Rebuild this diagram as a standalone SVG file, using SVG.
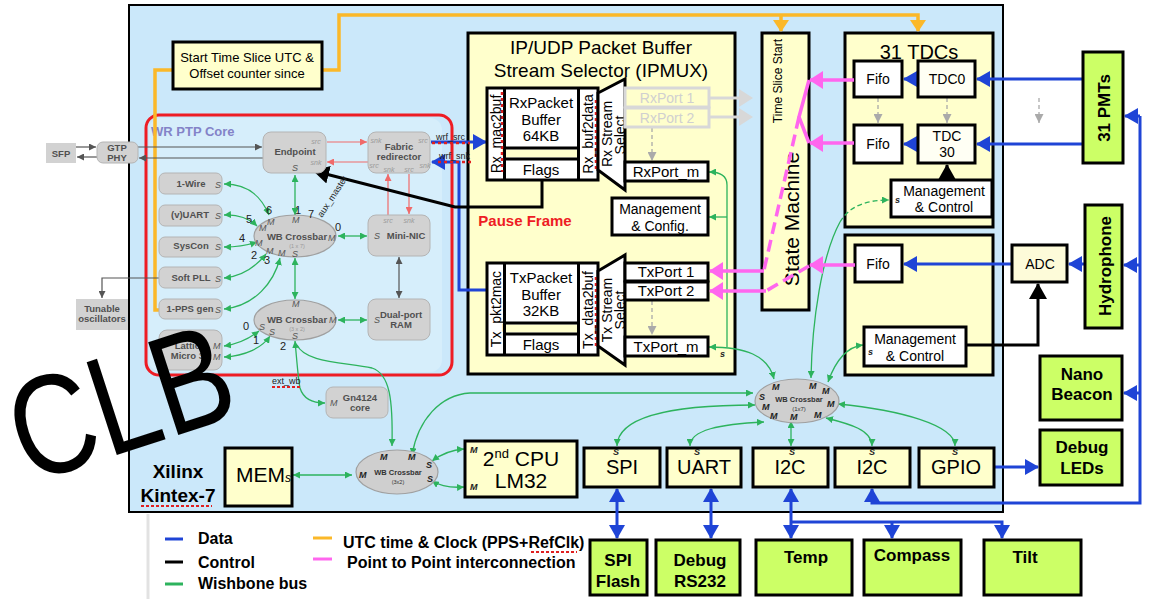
<svg xmlns="http://www.w3.org/2000/svg" width="1152" height="599" viewBox="0 0 1152 599">
<defs>
<style>
text{font-family:"Liberation Sans",Arial,sans-serif;}
.y{fill:#ffffcc;stroke:#000;stroke-width:3}
.w{fill:#fff;stroke:#000;stroke-width:3}
.g{fill:#ccff66;stroke:#000;stroke-width:3}
.gr{fill:#d2d2d2;stroke:#b4b4b4;stroke-width:1}
.gt{font-size:9.5px;font-weight:bold;fill:#505050;text-anchor:middle}
.si{font-style:italic;font-size:9px;fill:#555}
.pt{font-style:italic;font-size:7px;fill:#9a9a9a;text-anchor:middle}
.num{font-size:11px;fill:#222}
.bl{stroke:#1f44d6;stroke-width:3;fill:none}
.gn{stroke:#2db35d;stroke-width:1.3;fill:none}
.rd{stroke:#f06a6a;stroke-width:1.2;fill:none}
.dg{stroke:#555;stroke-width:1.2;fill:none}
.pk{stroke:#ff66ee;stroke-width:3.5;fill:none}
.or{stroke:#fbb829;stroke-width:3.5;fill:none}
.gd{stroke:#aaa;stroke-width:1.3;fill:none;stroke-dasharray:4,3}
.c{text-anchor:middle}
.t14{font-size:14px}
.t15{font-size:15px}
.t20{font-size:20px}
.gb{font-weight:bold;font-size:17px;text-anchor:middle}
.m{font-style:italic;font-weight:bold;font-size:9px;fill:#222}
.xb{fill:#cfcfcf;stroke:#a0a0a0;stroke-width:1.2}
.lg{font-size:16px;font-weight:bold}
</style>
<marker id="aB" markerUnits="userSpaceOnUse" markerWidth="14" markerHeight="16" refX="13" refY="8" orient="auto-start-reverse"><path d="M0,0 L14,8 L0,16 z" fill="#1f44d6"/></marker>
<marker id="aG" markerUnits="userSpaceOnUse" markerWidth="7" markerHeight="7" refX="7" refY="3.5" orient="auto-start-reverse"><path d="M0,0 L7,3.5 L0,7 z" fill="#2db35d"/></marker>
<marker id="aR" markerUnits="userSpaceOnUse" markerWidth="7" markerHeight="7" refX="7" refY="3.5" orient="auto-start-reverse"><path d="M0,0 L7,3.5 L0,7 z" fill="#f06a6a"/></marker>
<marker id="aD" markerUnits="userSpaceOnUse" markerWidth="7" markerHeight="7" refX="7" refY="3.5" orient="auto-start-reverse"><path d="M0,0 L7,3.5 L0,7 z" fill="#555"/></marker>
<marker id="aY" markerUnits="userSpaceOnUse" markerWidth="9" markerHeight="9" refX="9" refY="4.5" orient="auto-start-reverse"><path d="M0,0 L9,4.5 L0,9 z" fill="#aaa"/></marker>
<marker id="aP" markerUnits="userSpaceOnUse" markerWidth="14" markerHeight="18" refX="13" refY="9" orient="auto"><path d="M0,0 L14,9 L0,18 z" fill="#ff66ee"/></marker>
<marker id="aK" markerUnits="userSpaceOnUse" markerWidth="16" markerHeight="18" refX="15" refY="9" orient="auto"><path d="M0,0 L16,9 L0,18 z" fill="#000"/></marker>
<marker id="aO" markerUnits="userSpaceOnUse" markerWidth="12" markerHeight="16" refX="11" refY="8" orient="auto"><path d="M0,0 L12,8 L0,16 z" fill="#fbb829"/></marker>
</defs>

<rect x="0" y="0" width="1152" height="599" fill="#fff"/>
<line x1="148" y1="514" x2="148" y2="599" stroke="#e2e2e2" stroke-width="3"/>
<g id="fpga">
<rect x="129" y="5" width="874" height="507" fill="#cbe8fa" stroke="#000" stroke-width="2"/>
<text x="178" y="478" font-size="19" font-weight="bold" class="c">Xilinx</text>
<text x="178" y="502" font-size="19" font-weight="bold" class="c">Kintex-7</text>
<line x1="141" y1="506" x2="212" y2="506" stroke="#e02020" stroke-width="2" stroke-dasharray="3,2"/>
</g>

<g id="wrptp">
<rect x="149" y="118" width="293" height="254" rx="12" fill="#d6eefb"/>
<rect x="146" y="115" width="306" height="260" rx="13" fill="none" stroke="#ee1c24" stroke-width="3"/>
<text x="151" y="136" font-size="13" font-weight="bold" fill="#8383c8">WR PTP Core</text>
</g>

<g id="ipmux">
<rect x="468" y="33" width="267" height="341" class="y"/>
<text x="601" y="54" font-size="19" class="c">IP/UDP Packet Buffer</text>
<text x="601" y="77" font-size="19" class="c">Stream Selector (IPMUX)</text>
<text x="525" y="226" font-size="15" font-weight="bold" fill="#ee1c24" class="c">Pause Frame</text>
</g>
<g id="statemachine"><rect x="762" y="33" width="47" height="277" class="y"/><text transform="translate(782,81) rotate(-90)" font-size="12" class="c">Time Slice Start</text><text transform="translate(799,219) rotate(-90)" font-size="21" class="c">State Machine</text></g>
<g id="tdcs">
<rect x="845" y="33" width="148" height="194" class="y"/>
<text x="919" y="59" class="c t20">31 TDCs</text>
</g>
<g id="hydroproc"><rect x="845" y="235" width="148" height="140" class="y"/></g>

<g id="connectors">
<path class="or" d="M322,70 L339,70 L339,15 L918,15 L918,31" marker-end="url(#aO)"/>
<path class="or" d="M781,15 L781,31" marker-end="url(#aO)"/>
<path class="or" d="M173,70 L155,70 L155,310 L163,310"/>
<path class="dg" d="M76,147 L96,147" marker-end="url(#aD)"/>
<path class="dg" d="M97,157 L77,157" marker-end="url(#aD)"/>
<path class="dg" d="M138,147 L262,147" marker-end="url(#aD)"/>
<path class="dg" d="M263,158 L139,158" marker-end="url(#aD)"/>
<path class="dg" d="M159,278 L102,278 L102,298" marker-end="url(#aD)"/>
<path class="dg" d="M399,257 L399,298" marker-start="url(#aD)" marker-end="url(#aD)"/>
<path class="rd" d="M327,142 L367,142" marker-end="url(#aR)"/>
<path class="rd" d="M368,162 L327,162" marker-end="url(#aR)"/>
<path class="rd" d="M388,215 L388,174" marker-end="url(#aR)"/>
<path class="rd" d="M409,174 L409,214" marker-end="url(#aR)"/>
<path class="gn" d="M295,175 L295,215" marker-start="url(#aG)" marker-end="url(#aG)"/>
<path class="gn" d="M224,184 C250,184 262,198 269,215" marker-start="url(#aG)" marker-end="url(#aG)"/>
<path class="gn" d="M224,215 C238,214 250,219 257,226" marker-start="url(#aG)" marker-end="url(#aG)"/>
<path class="gn" d="M224,247 C238,247 248,245 257,242" marker-start="url(#aG)" marker-end="url(#aG)"/>
<path class="gn" d="M224,278 C245,276 258,264 266,254" marker-start="url(#aG)" marker-end="url(#aG)"/>
<path class="gn" d="M224,309 C255,306 274,282 280,258" marker-start="url(#aG)" marker-end="url(#aG)"/>
<path class="gn" d="M338,236 L367,236" marker-start="url(#aG)" marker-end="url(#aG)"/>
<path class="gn" d="M295,258 L295,299" marker-start="url(#aG)" marker-end="url(#aG)"/>
<path class="gn" d="M224,346 C238,344 250,338 259,331" marker-start="url(#aG)" marker-end="url(#aG)"/>
<path class="gn" d="M224,357 C245,356 262,348 270,336" marker-start="url(#aG)" marker-end="url(#aG)"/>
<path class="gn" d="M338,320 L367,320" marker-start="url(#aG)" marker-end="url(#aG)"/>
<path class="gn" d="M295,341 C297,362 298,378 300,388 C303,398 312,403 325,403" marker-start="url(#aG)" marker-end="url(#aG)"/>
<path class="gn" d="M297,345 C305,362 340,362 372,368 C390,374 393,400 392,446" marker-end="url(#aG)"/>
<path class="gn" d="M293,475 L352,475" marker-start="url(#aG)" marker-end="url(#aG)"/>
<path class="gn" d="M412,455 C418,420 440,395 470,393 L753,393" marker-start="url(#aG)" marker-end="url(#aG)"/>
<path class="gn" d="M432,461 C440,455 450,450 464,449" marker-start="url(#aG)" marker-end="url(#aG)"/>
<path class="gn" d="M432,481 C440,486 450,488 464,487" marker-start="url(#aG)" marker-end="url(#aG)"/>
<path class="gn" d="M709,347 C745,347 768,355 774,379" marker-start="url(#aG)" marker-end="url(#aG)"/>
<path class="gn" d="M727,347 L727,185 C727,176 720,172 709,172" marker-end="url(#aG)"/>
<path class="gn" d="M727,217 L709,217" marker-end="url(#aG)"/>
<path class="gn" d="M811,378 C812,320 822,255 840,222" marker-start="url(#aG)"/>
<path class="gn" d="M840,222 C850,205 868,200 889,200" stroke-dasharray="5,3" marker-end="url(#aG)"/>
<path class="gn" d="M828,382 C834,365 845,347 863,345" marker-start="url(#aG)" marker-end="url(#aG)"/>
<path class="gn" d="M755,405 C700,405 618,410 617,446" marker-start="url(#aG)" marker-end="url(#aG)"/>
<path class="gn" d="M764,422 C720,424 690,430 690,446" marker-start="url(#aG)" marker-end="url(#aG)"/>
<path class="gn" d="M791,421 L791,446" marker-start="url(#aG)" marker-end="url(#aG)"/>
<path class="gn" d="M826,418 C850,424 872,430 872,446" marker-start="url(#aG)" marker-end="url(#aG)"/>
<path class="gn" d="M838,404 C900,410 955,425 955,446" marker-start="url(#aG)" marker-end="url(#aG)"/>
<path class="bl" d="M431,142 L486,142" marker-end="url(#aB)"/>
<path class="bl" d="M487,290 L459,290 L459,162 L432,162" marker-end="url(#aB)"/>
<line x1="432" y1="143" x2="470" y2="143" stroke="#e02020" stroke-width="2.5" stroke-dasharray="3,3"/>
<line x1="438" y1="162" x2="472" y2="162" stroke="#e02020" stroke-width="2.5" stroke-dasharray="3,3"/>
<text x="436" y="140" font-size="9" fill="#222">wrf_src</text>
<text x="439" y="159" font-size="9" fill="#222">wrf_snk</text>
<path class="bl" d="M1083,79 L977,79" marker-end="url(#aB)"/>
<path class="bl" d="M1083,144 L977,144" marker-end="url(#aB)"/>
<path class="bl" d="M918,79 L904,79" marker-end="url(#aB)"/>
<path class="bl" d="M918,144 L904,144" marker-end="url(#aB)"/>
<path class="bl" d="M1085,264 L1069,264" marker-end="url(#aB)"/>
<path class="bl" d="M1012,264 L904,264" marker-end="url(#aB)"/>
<path class="bl" d="M994,467 L1038,467" marker-end="url(#aB)"/>
<path class="bl" d="M1140,116 L1140,503 L872,503 L872,489" marker-end="url(#aB)"/>
<path class="bl" d="M1140,116 L1125,116" marker-end="url(#aB)"/>
<path class="bl" d="M1140,265 L1124,265" marker-end="url(#aB)"/>
<path class="bl" d="M1140,393 L1124,393" marker-end="url(#aB)"/>
<path class="bl" d="M617,489 L617,538" marker-start="url(#aB)" marker-end="url(#aB)"/>
<path class="bl" d="M711,489 L711,538" marker-start="url(#aB)" marker-end="url(#aB)"/>
<path class="bl" d="M791,489 L791,538" marker-start="url(#aB)" marker-end="url(#aB)"/>
<path class="bl" d="M791,522 L1002,522 L1002,538" marker-end="url(#aB)"/>
<path class="bl" d="M892,522 L892,538" marker-end="url(#aB)"/>
<path d="M542,180 L542,207 L455,207 L314,171" stroke="#000" stroke-width="3" fill="none" marker-end="url(#aK)"/>
<path d="M947,180 L947,165" stroke="#000" stroke-width="3" fill="none" marker-end="url(#aK)"/>
<path d="M966,345 L1038,345 L1038,284" stroke="#000" stroke-width="3" fill="none" marker-end="url(#aK)"/>
<path class="gd" d="M652,128 L652,161" marker-end="url(#aY)"/>
<path class="gd" d="M652,301 L652,335" marker-end="url(#aY)"/>
<path class="gd" d="M878,98 L878,123" marker-end="url(#aY)"/>
<path class="gd" d="M947,98 L947,123" marker-end="url(#aY)"/>
<path class="gd" d="M1039,98 L1039,123" marker-end="url(#aY)"/>
<path d="M709,98 L740,98" stroke="#d8d8d8" stroke-width="3" fill="none"/>
<path d="M709,117 L740,117" stroke="#d8d8d8" stroke-width="3" fill="none"/>
<path d="M739,89 L753,98 L739,107 z" fill="#d8d8d8"/>
<path d="M739,108 L753,117 L739,126 z" fill="#d8d8d8"/>
</g>

<g id="sfp"><rect x="46" y="143" width="30" height="20" fill="#d2d2d2"/><text x="61" y="157" class="gt">SFP</text></g>
<g id="gtp"><rect x="97" y="142" width="41" height="21" rx="6" class="gr"/><text x="117" y="151" class="gt">GTP</text><text x="117" y="161" class="gt">PHY</text></g>
<g id="tunable"><rect x="76" y="299" width="52" height="31" fill="#d2d2d2"/><text x="102" y="312" class="gt">Tunable</text><text x="102" y="322" class="gt">oscillators</text></g>
<g id="endpoint"><rect x="263" y="132" width="63" height="41" rx="8" class="gr"/><text x="295" y="155" class="gt">Endpoint</text><text x="316" y="144" class="pt">src</text><text x="316" y="165" class="pt">snk</text><text x="292" y="171" class="si">S</text></g>
<g id="fabric"><rect x="368" y="132" width="62" height="41" rx="8" class="gr"/><text x="399" y="150" class="gt">Fabric</text><text x="399" y="160" class="gt">redirector</text><text x="376" y="143" class="pt">snk</text><text x="423" y="143" class="pt">src</text><text x="425" y="168" class="pt">snk</text><text x="374" y="168" class="pt">src</text><text x="389" y="172" class="pt">snk</text><text x="409" y="172" class="pt">src</text></g>
<g id="mininic"><rect x="368" y="215" width="62" height="41" rx="8" class="gr"/><text x="406" y="239" class="gt">Mini-NIC</text><text x="374" y="239" class="si">S</text><text x="388" y="223" class="pt">src</text><text x="409" y="223" class="pt">snk</text></g>
<g id="dpram"><rect x="368" y="299" width="62" height="41" rx="8" class="gr"/><text x="401" y="318" class="gt">Dual-port</text><text x="401" y="328" class="gt">RAM</text><text x="374" y="323" class="si">S</text></g>
<g id="onewire"><rect x="159" y="173" width="63" height="21" rx="6" class="gr"/><text x="191" y="187" class="gt">1-Wire</text><text x="215" y="188" class="si">S</text></g>
<g id="vuart"><rect x="159" y="205" width="63" height="21" rx="6" class="gr"/><text x="190" y="218" class="gt">(v)UART</text><text x="215" y="219" class="si">S</text></g>
<g id="syscon"><rect x="159" y="237" width="63" height="20" rx="6" class="gr"/><text x="191" y="249" class="gt">SysCon</text><text x="215" y="250" class="si">S</text></g>
<g id="softpll"><rect x="159" y="267" width="63" height="21" rx="6" class="gr"/><text x="191" y="281" class="gt">Soft PLL</text><text x="215" y="282" class="si">S</text></g>
<g id="pps"><rect x="159" y="299" width="63" height="20" rx="6" class="gr"/><text x="190" y="312" class="gt">1-PPS gen</text><text x="215" y="313" class="si">S</text></g>
<g id="lattice"><rect x="159" y="330" width="63" height="40" rx="8" class="gr"/><text x="190" y="349" class="gt">Lattice</text><text x="190" y="359" class="gt">Micro 32</text><text x="213" y="349" class="si">M</text><text x="213" y="360" class="si">M</text></g>
<g id="xbar1">
<ellipse cx="295" cy="236" rx="41" ry="21" class="xb"/>
<text x="297" y="240" class="gt">WB Crossbar</text><text x="297" y="248" font-size="5.5" fill="#999" class="c">(1 x 7)</text>
<text x="292" y="223" class="si">M</text><text x="267" y="225" class="si">M</text><text x="259" y="231" class="si">M</text><text x="255" y="246" class="si">M</text><text x="266" y="254" class="si">M</text><text x="278" y="256" class="si">M</text><text x="292" y="257" class="si">S</text><text x="328" y="241" class="si">M</text>
<text x="266" y="214" class="num">6</text><text x="295" y="214" class="num">1</text><text x="308" y="218" class="num">7</text><text x="246" y="223" class="num">5</text><text x="239" y="242" class="num">4</text><text x="251" y="259" class="num">2</text><text x="264" y="264" class="num">3</text><text x="335" y="231" class="num">0</text>
<text transform="translate(322,218) rotate(-57)" font-size="9" fill="#222">aux_master</text>
</g>
<g id="xbar2">
<ellipse cx="295" cy="320" rx="41" ry="20" class="xb"/>
<text x="297" y="323" class="gt">WB Crossbar</text><text x="297" y="331" font-size="5.5" fill="#999" class="c">(3 x 2)</text>
<text x="292" y="307" class="si">M</text><text x="259" y="330" class="si">S</text><text x="269" y="335" class="si">S</text><text x="292" y="339" class="si">S</text><text x="329" y="323" class="si">M</text>
<text x="243" y="330" class="num">0</text><text x="253" y="344" class="num">1</text><text x="280" y="350" class="num">2</text>
</g>
<g id="extwb"><text x="272" y="384" font-size="9" fill="#222">ext_wb</text><line x1="272" y1="387" x2="302" y2="387" stroke="#e02020" stroke-width="2" stroke-dasharray="3,2"/></g>
<g id="gn4124"><rect x="326" y="387" width="62" height="31" rx="7" class="gr"/><text x="360" y="401" class="gt">Gn4124</text><text x="360" y="411" class="gt">core</text><text x="330" y="406" class="si">M</text></g>

<g id="starttime"><rect x="173" y="42" width="149" height="47" class="y"/><text x="247" y="62" font-size="13" class="c">Start Time Slice UTC &amp;</text><text x="247" y="78" font-size="13" class="c">Offset counter since</text></g>

<g id="rxbuf">
<rect x="487" y="88" width="111" height="92" class="w"/>
<rect x="505" y="149.5" width="73" height="8" fill="#ffffcc"/>
<line x1="504.5" y1="88" x2="504.5" y2="180" stroke="#000" stroke-width="3"/>
<line x1="578.5" y1="88" x2="578.5" y2="180" stroke="#000" stroke-width="3"/>
<line x1="504" y1="148" x2="579" y2="148" stroke="#000" stroke-width="3"/>
<line x1="504" y1="159" x2="579" y2="159" stroke="#000" stroke-width="3"/>
<line x1="502" y1="92" x2="502" y2="172" stroke="#e02020" stroke-width="2.5" stroke-dasharray="3,3"/>
<line x1="596" y1="100" x2="596" y2="172" stroke="#e02020" stroke-width="2.5" stroke-dasharray="3,3"/>
<text x="541" y="108" class="c t15">RxPacket</text><text x="541" y="125" class="c t15">Buffer</text><text x="541" y="141" class="c t15">64KB</text>
<text x="541" y="175" class="c t15">Flags</text>
<text transform="translate(501,134) rotate(-90)" class="c t14">Rx_mac2buf</text>
<text transform="translate(593,134) rotate(-90)" class="c t14">Rx_buf2data</text>
</g>
<g id="rxsel"><polygon points="598,93 625,79 625,190 598,170" class="w"/><text transform="translate(612,134) rotate(-90)" class="c t14">Rx Stream</text><text transform="translate(625,135) rotate(-90)" class="c t14">Select</text></g>
<g id="rxport1"><rect x="625" y="88" width="84" height="19" fill="#ffffcc" stroke="#d8d8d8" stroke-width="3"/><text x="667" y="103" class="c t14" fill="#d0d0d0">RxPort 1</text></g>
<g id="rxport2"><rect x="625" y="108" width="84" height="19" fill="#ffffcc" stroke="#d8d8d8" stroke-width="3"/><text x="667" y="123" class="c t14" fill="#d0d0d0">RxPort 2</text></g>
<g id="rxportm"><rect x="625" y="162" width="83" height="19" class="w"/><text x="666" y="177" class="c t15">RxPort_m</text></g>
<g id="mgmtcfg"><rect x="612" y="198" width="96" height="37" class="w"/><text x="660" y="214" class="c t14">Management</text><text x="660" y="231" class="c t14">&amp; Config.</text></g>
<g id="txbuf">
<rect x="487" y="263" width="111" height="92" class="w"/>
<rect x="505" y="324.5" width="73" height="8" fill="#ffffcc"/>
<line x1="504.5" y1="263" x2="504.5" y2="355" stroke="#000" stroke-width="3"/>
<line x1="578.5" y1="263" x2="578.5" y2="355" stroke="#000" stroke-width="3"/>
<line x1="504" y1="323" x2="579" y2="323" stroke="#000" stroke-width="3"/>
<line x1="504" y1="334" x2="579" y2="334" stroke="#000" stroke-width="3"/>
<line x1="596" y1="277" x2="596" y2="349" stroke="#e02020" stroke-width="2.5" stroke-dasharray="3,3"/>
<text x="541" y="283" class="c t15">TxPacket</text><text x="541" y="300" class="c t15">Buffer</text><text x="541" y="316" class="c t15">32KB</text>
<text x="541" y="350" class="c t15">Flags</text>
<text transform="translate(501,309) rotate(-90)" class="c t14">Tx_pkt2mac</text>
<text transform="translate(593,310) rotate(-90)" class="c t14">Tx_data2buf</text>
</g>
<g id="txsel"><polygon points="598,271 625,255 625,365 598,346" class="w"/><text transform="translate(612,310) rotate(-90)" class="c t14">Tx Stream</text><text transform="translate(625,310) rotate(-90)" class="c t14">Select</text></g>
<g id="txport1"><rect x="625" y="263" width="83" height="18" class="w"/><text x="666" y="277" class="c t15">TxPort 1</text></g>
<g id="txport2"><rect x="625" y="282" width="83" height="18" class="w"/><text x="666" y="296" class="c t15">TxPort 2</text></g>
<g id="txportm"><rect x="625" y="337" width="83" height="19" class="w"/><text x="666" y="352" class="c t15">TxPort_m</text><text x="720" y="357" class="m">s</text></g>

<g id="fifo0"><rect x="854" y="61" width="48" height="36" class="w"/><text x="878" y="84" class="c t14">Fifo</text></g>
<g id="tdc0"><rect x="918" y="61" width="57" height="36" fill="#fffff4" stroke="#000" stroke-width="3"/><text x="947" y="84" class="c t14">TDC0</text></g>
<g id="fifo30"><rect x="854" y="125" width="48" height="38" class="w"/><text x="878" y="149" class="c t14">Fifo</text></g>
<g id="tdc30"><rect x="918" y="125" width="57" height="38" fill="#fffff4" stroke="#000" stroke-width="3"/><text x="947" y="141" class="c t14">TDC</text><text x="947" y="157" class="c t14">30</text></g>
<g id="tdcmgmt"><rect x="891" y="180" width="101" height="37" class="w"/><text x="944" y="196" class="c t14">Management</text><text x="944" y="212" class="c t14">&amp; Control</text><text x="895" y="203" class="m" font-size="11">s</text></g>

<g id="fifoh"><rect x="855" y="245" width="47" height="37" class="w"/><text x="878" y="269" class="c t14">Fifo</text></g>
<g id="hmgmt"><rect x="864" y="327" width="102" height="39" class="w"/><text x="915" y="344" class="c t14">Management</text><text x="915" y="361" class="c t14">&amp; Control</text><text x="868" y="355" class="m" font-size="11">s</text></g>
<g id="adc"><rect x="1012" y="245" width="55" height="37" fill="#fdfbd9" stroke="#000" stroke-width="3"/><text x="1040" y="269" class="c t14">ADC</text></g>

<g id="pmts"><rect x="1083" y="52" width="40" height="111" class="g"/><text transform="translate(1110,108) rotate(-90)" class="gb" font-size="17.5">31 PMTs</text></g>
<g id="hydrophone"><rect x="1085" y="205" width="37" height="123" class="g"/><text transform="translate(1111,266) rotate(-90)" class="gb" font-size="18.5">Hydrophone</text></g>
<g id="nanobeacon"><rect x="1040" y="356" width="82" height="64" class="g"/><text x="1082" y="380" class="gb" font-size="19">Nano</text><text x="1082" y="400" class="gb" font-size="19">Beacon</text></g>
<g id="debugleds"><rect x="1040" y="430" width="82" height="55" class="g"/><text x="1082" y="453" class="gb" font-size="19">Debug</text><text x="1082" y="474" class="gb" font-size="19">LEDs</text></g>

<g id="mems"><rect x="225" y="448" width="67" height="58" class="y"/><text x="236" y="482" font-size="21">MEM<tspan font-size="12" font-style="italic">s</tspan></text></g>
<g id="xbar3"><ellipse cx="397" cy="472" rx="41" ry="22" class="xb"/><text x="398" y="475" font-size="7.5" font-weight="bold" fill="#333" class="c">WB Crossbar</text><text x="398" y="484" font-size="5.5" fill="#333" class="c">(3x2)</text><text x="380" y="460" class="m">M</text><text x="408" y="460" class="m">M</text><text x="359" y="478" class="m">M</text><text x="426" y="468" class="m">S</text><text x="427" y="482" class="m">S</text></g>
<g id="cpu2"><rect x="465" y="441" width="112" height="56" class="y"/><text x="521" y="466" font-size="21" class="c">2<tspan font-size="13" dy="-8">nd</tspan><tspan dy="8"> CPU</tspan></text><text x="521" y="488" font-size="21" class="c">LM32</text><text x="470" y="453" class="m">M</text><text x="470" y="490" class="m">M</text></g>
<g id="xbar4"><ellipse cx="797" cy="401" rx="42" ry="22" class="xb"/><text x="799" y="402" font-size="7.5" font-weight="bold" fill="#333" class="c">WB Crossbar</text><text x="799" y="411" font-size="6" fill="#333" class="c">(1x7)</text>
<text x="772" y="390" class="m">M</text><text x="809" y="389" class="m">M</text><text x="822" y="394" class="m">M</text><text x="759" y="400" class="m">S</text><text x="762" y="410" class="m">M</text><text x="827" y="407" class="m">M</text><text x="770" y="419" class="m">M</text><text x="790" y="420" class="m">M</text><text x="814" y="418" class="m">M</text></g>
<g id="spi"><rect x="584" y="448" width="76" height="39" class="y"/><text x="622" y="474" class="c t20">SPI</text><text x="613" y="455" class="m">S</text></g>
<g id="uart"><rect x="667" y="448" width="74" height="39" class="y"/><text x="704" y="474" class="c t20">UART</text><text x="694" y="455" class="m">S</text></g>
<g id="i2c1"><rect x="753" y="448" width="75" height="39" class="y"/><text x="790" y="474" class="c t20">I2C</text><text x="789" y="455" class="m">S</text></g>
<g id="i2c2"><rect x="835" y="448" width="75" height="39" class="y"/><text x="872" y="474" class="c t20">I2C</text><text x="869" y="455" class="m">S</text></g>
<g id="gpio"><rect x="919" y="448" width="75" height="39" class="y"/><text x="956" y="474" class="c t20">GPIO</text><text x="952" y="455" class="m">S</text></g>
<g id="spiflash"><rect x="590" y="540" width="57" height="55" class="g"/><text x="618" y="566" class="gb">SPI</text><text x="618" y="587" class="gb">Flash</text></g>
<g id="rs232"><rect x="656" y="540" width="84" height="55" class="g"/><text x="700" y="566" class="gb">Debug</text><text x="700" y="587" class="gb">RS232</text></g>
<g id="temp"><rect x="756" y="540" width="96" height="55" class="g"/><text x="806" y="563" class="gb">Temp</text></g>
<g id="compass"><rect x="864" y="540" width="97" height="55" class="g"/><text x="912" y="561" class="gb">Compass</text></g>
<g id="tilt"><rect x="984" y="540" width="97" height="55" class="g"/><text x="1025" y="563" class="gb">Tilt</text></g>

<g id="p2p">
<path class="pk" d="M854,80 L810,80" marker-end="url(#aP)"/>
<path class="pk" d="M854,143 L810,143" marker-end="url(#aP)"/>
<path class="pk" d="M809,80 L799,117 L809,143"/>
<path class="pk" d="M799,117 L764,270" stroke-dasharray="12,6"/>
<path class="pk" d="M764,271 L710,271" marker-end="url(#aP)"/>
<path class="pk" d="M855,265 L810,265" marker-end="url(#aP)"/>
<path class="pk" d="M809,266 L766,291" stroke-dasharray="12,6"/>
<path class="pk" d="M766,291 L710,291" marker-end="url(#aP)"/>
</g>

<g id="legend">
<line x1="165" y1="539" x2="183" y2="539" stroke="#1f44d6" stroke-width="3"/>
<line x1="165" y1="562" x2="183" y2="562" stroke="#000" stroke-width="3"/>
<line x1="165" y1="584" x2="183" y2="584" stroke="#2db35d" stroke-width="3"/>
<line x1="313" y1="538" x2="332" y2="538" stroke="#fbb829" stroke-width="3"/>
<line x1="313" y1="559" x2="332" y2="559" stroke="#ff66ee" stroke-width="3"/>
<text x="198" y="544" class="lg">Data</text>
<text x="198" y="568" class="lg">Control</text>
<text x="198" y="589" class="lg">Wishbone bus</text>
<text x="343" y="548" class="lg">UTC time &amp; Clock (PPS+RefClk)</text>
<text x="347" y="568" class="lg">Point to Point interconnection</text>
<line x1="531" y1="552" x2="577" y2="552" stroke="#e02020" stroke-width="2" stroke-dasharray="3,2"/>
</g>

<g id="clb"><text transform="translate(28,484) rotate(-18)" font-family="Lato, Roboto, 'Liberation Sans', sans-serif" font-weight="200" font-size="142" textLength="226" lengthAdjust="spacingAndGlyphs" fill="#000">CLB</text></g>
</svg>
